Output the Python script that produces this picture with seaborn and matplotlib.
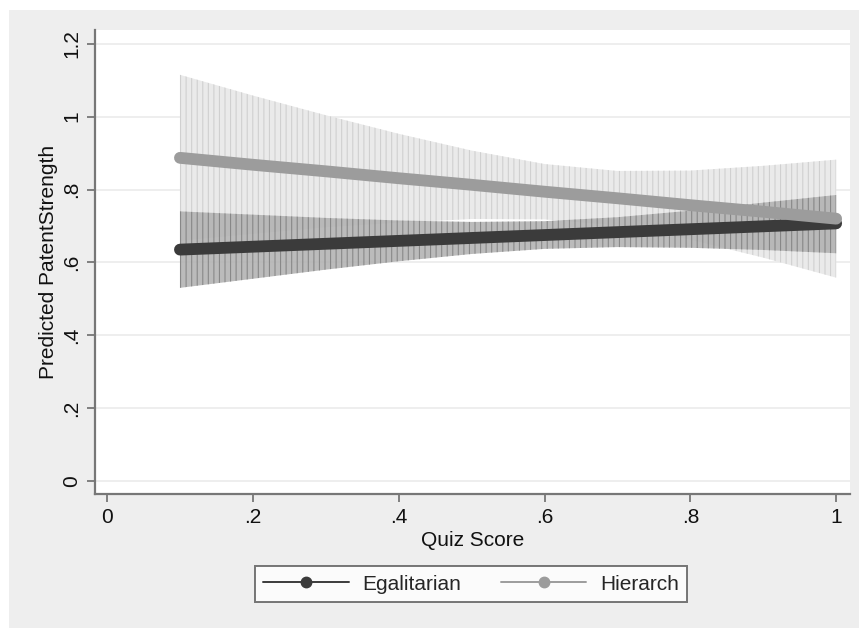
import numpy as np
import pandas as pd
import matplotlib
matplotlib.use("Agg")
import matplotlib.pyplot as plt
import seaborn as sns
from matplotlib.lines import Line2D
from matplotlib.patches import Rectangle

# ---- data ----
quiz = [0.1, 0.2, 0.3, 0.4, 0.5, 0.6, 0.7, 0.8, 0.9, 1.0]
egal_pred = [0.635, 0.643, 0.651, 0.659, 0.667, 0.675, 0.683, 0.691, 0.699, 0.707]
egal_lo = [0.530, 0.555, 0.580, 0.603, 0.623, 0.637, 0.642, 0.640, 0.634, 0.625]
egal_hi = [0.740, 0.731, 0.722, 0.715, 0.711, 0.713, 0.724, 0.742, 0.764, 0.785]
hier_pred = [0.887, 0.868, 0.850, 0.831, 0.813, 0.794, 0.776, 0.757, 0.739, 0.720]
hier_lo = [0.659, 0.678, 0.696, 0.709, 0.719, 0.718, 0.701, 0.662, 0.613, 0.558]
hier_hi = [1.115, 1.058, 1.004, 0.953, 0.907, 0.870, 0.851, 0.852, 0.865, 0.882]
groups = ["Egalitarian", "Hierarch"]
x_ticks = [0, 0.2, 0.4, 0.6, 0.8, 1.0]
x_ticklabels = ["0", ".2", ".4", ".6", ".8", "1"]
y_ticks = [0, 0.2, 0.4, 0.6, 0.8, 1.0, 1.2]
y_ticklabels = ["0", ".2", ".4", ".6", ".8", "1", "1.2"]

df = pd.DataFrame({
    "Quiz Score": quiz + quiz,
    "Predicted PatentStrength": egal_pred + hier_pred,
    "group": [groups[0]] * len(quiz) + [groups[1]] * len(quiz),
})

sns.set_style("white")
plt.rcParams["font.family"] = ["Liberation Sans", "DejaVu Sans"]
plt.rcParams["hatch.linewidth"] = 0.8

fig = plt.figure(figsize=(8.59, 6.28), dpi=100)
fig.patch.set_facecolor("#eeeeee")
# white margins at left and top
fig.patches.append(Rectangle((0, 0), 9 / 859, 1, transform=fig.transFigure,
                             facecolor="white", edgecolor="none", zorder=-10))
fig.patches.append(Rectangle((0, 1 - 10 / 628), 1, 10 / 628, transform=fig.transFigure,
                             facecolor="white", edgecolor="none", zorder=-10))
ax = fig.add_axes([95 / 859, 1 - 494 / 628, (850 - 95) / 859, (494 - 30) / 628])
ax.set_facecolor("white")

dark = "#3b3b3b"
light = "#9c9c9c"

# CI bands
ax.fill_between(quiz, hier_lo, hier_hi, facecolor="#eaeaea", edgecolor="#d0d0d0",
                hatch="|||", linewidth=0, zorder=2)
ax.fill_between(quiz, egal_lo, egal_hi, facecolor="#b0b0b0", edgecolor="#808080",
                hatch="|||", linewidth=0, zorder=3, alpha=0.85)

sns.lineplot(data=df, x="Quiz Score", y="Predicted PatentStrength", hue="group",
             hue_order=groups, palette=[dark, light], linewidth=8.5,
             ax=ax, legend=False, zorder=5,
             solid_capstyle="round")

ax.set_xlim(-0.0165, 1.019)
ax.set_ylim(-0.036, 1.238)
ax.set_xticks(x_ticks)
ax.set_xticklabels(x_ticklabels)
ax.set_yticks(y_ticks)
ax.set_yticklabels(y_ticklabels, rotation=90, va="center")
ax.yaxis.grid(True, color="#ebebeb", linewidth=1.2, zorder=0)
ax.xaxis.grid(False)
ax.set_axisbelow(True)

for s in ["top", "right"]:
    ax.spines[s].set_visible(False)
for s in ["left", "bottom"]:
    ax.spines[s].set_color("#777777")
    ax.spines[s].set_linewidth(1.6)
ax.tick_params(axis="both", which="major", length=6, width=1.3, color="#777777",
               labelsize=15, labelcolor="#111111", direction="out", bottom=True, left=True)
ax.tick_params(axis="x", pad=4)
ax.tick_params(axis="y", pad=4)

ax.set_xlabel("Quiz Score", fontsize=15, color="#111111", labelpad=3)
ax.set_ylabel("Predicted PatentStrength", fontsize=15, color="#111111", labelpad=3)

handles = [
    Line2D([0], [0], color=dark, linewidth=1.4, marker="o", markersize=7.5,
           markerfacecolor=dark, markeredgecolor=dark),
    Line2D([0], [0], color=light, linewidth=1.4, marker="o", markersize=7.5,
           markerfacecolor=light, markeredgecolor=light),
]
leg = fig.legend(handles, groups, loc="center", bbox_to_anchor=(471 / 859, 1 - 584 / 628),
                 ncol=2, fontsize=15, frameon=True, fancybox=False, handlelength=4.1,
                 columnspacing=1.9, handletextpad=0.65, borderpad=0.4, borderaxespad=0)
leg.get_frame().set_edgecolor("#555555")
leg.get_frame().set_linewidth(1.4)
leg.get_frame().set_facecolor("white")

fig.savefig("out.png", dpi=100, facecolor=fig.get_facecolor())
